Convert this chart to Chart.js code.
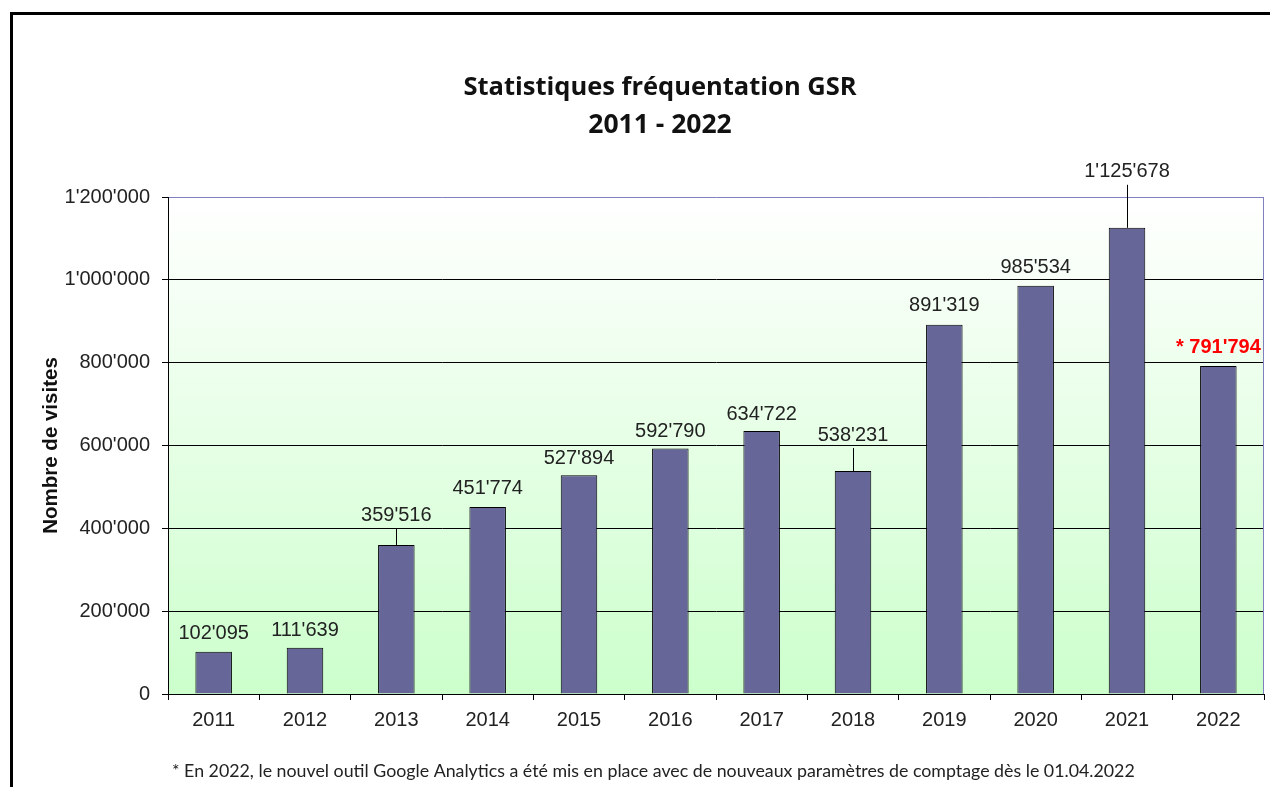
<!DOCTYPE html>
<html>
<head>
<meta charset="utf-8">
<script src="https://cdn.jsdelivr.net/npm/chart.js@4.4.1/dist/chart.umd.min.js"></script>
<style>
html,body{margin:0;padding:0;background:#fff;overflow:hidden}
#wrap{width:1270px;height:787px;position:relative}
canvas{display:block}
</style>
</head>
<body>
<div id="wrap"><canvas id="c" width="1270" height="787"></canvas></div>
<script>
// ---- data ----
const years = ['2011','2012','2013','2014','2015','2016','2017','2018','2019','2020','2021','2022'];
const visits = [102095, 111639, 359516, 451774, 527894, 592790, 634722, 538231, 891319, 985534, 1125678, 791794];
const labelPrefix = ['', '', '', '', '', '', '', '', '', '', '', '* '];
const yTickValues = [0, 200000, 400000, 600000, 800000, 1000000, 1200000];
const titleLines = ['Statistiques fréquentation GSR', '2011 - 2022'];
const yAxisTitle = 'Nombre de visites';
const footnote = '* En 2022, le nouvel outil Google Analytics a été mis en place avec de nouveaux paramètres de comptage dès le 01.04.2022';

const fmt = v => String(v).replace(/\B(?=(\d{3})+(?!\d))/g, "'");
const ARIAL = "'Liberation Sans', Arial, sans-serif";
const TITLEFONT = "'Open Sans', Lato, sans-serif";
const NOTEFONT = "Lato, 'Open Sans', sans-serif";

const bgPlugin = {
  id: 'bgPlugin',
  beforeDraw(chart) {
    const {ctx, chartArea: a} = chart;
    ctx.save();
    ctx.fillStyle = '#fff';
    ctx.fillRect(0, 0, chart.width, chart.height);
    const g = ctx.createLinearGradient(0, a.top, 0, a.bottom);
    g.addColorStop(0, '#ffffff');
    g.addColorStop(1, '#ccffcc');
    ctx.fillStyle = g;
    ctx.fillRect(a.left, a.top, a.right - a.left, a.bottom - a.top);
    ctx.restore();
  },
  beforeDatasetsDraw(chart) {
    const {ctx, chartArea: a} = chart;
    ctx.save();
    ctx.strokeStyle = '#8080c0';
    ctx.lineWidth = 1;
    ctx.beginPath();
    ctx.moveTo(Math.round(a.right) - 0.5, a.top);
    ctx.lineTo(Math.round(a.right) - 0.5, a.bottom);
    ctx.stroke();
    ctx.restore();
  },
  afterDraw(chart) {
    const {ctx} = chart;
    ctx.save();
    // outer frame
    ctx.strokeStyle = '#000';
    ctx.lineWidth = 3;
    ctx.beginPath();
    ctx.moveTo(11.5, chart.height + 5);
    ctx.lineTo(11.5, 13.5);
    ctx.lineTo(chart.width + 5, 13.5);
    ctx.stroke();
    // footnote
    ctx.fillStyle = '#222';
    ctx.font = '17.8px ' + NOTEFONT;
    ctx.textAlign = 'left';
    ctx.textBaseline = 'middle';
    ctx.fillText(footnote, 172, 771);
    ctx.restore();
  }
};

const barLabels = {
  id: 'barLabels',
  afterDatasetsDraw(chart, args, opts) {
    const {ctx} = chart;
    const meta = chart.getDatasetMeta(0);
    ctx.save();
    ctx.textAlign = 'center';
    ctx.textBaseline = 'middle';
    meta.data.forEach((bar, i) => {
      const lift = opts.lift[i];
      const ly = bar.y - lift;
      if (lift >= opts.leaderMin) {
        ctx.strokeStyle = '#000';
        ctx.lineWidth = 1;
        ctx.beginPath();
        ctx.moveTo(Math.round(bar.x) + 0.5, ly + 13);
        ctx.lineTo(Math.round(bar.x) + 0.5, bar.y);
        ctx.stroke();
      }
      const special = labelPrefix[i] !== '';
      ctx.font = (special ? 'bold ' : '') + '20px ' + ARIAL;
      ctx.fillStyle = special ? '#ff0000' : '#222';
      ctx.fillText(labelPrefix[i] + fmt(visits[i]), bar.x, ly);
    });
    ctx.restore();
  }
};

new Chart(document.getElementById('c'), {
  type: 'bar',
  data: {
    labels: years,
    datasets: [{
      data: visits,
      backgroundColor: '#666699',
      borderColor: '#000',
      borderWidth: 1,
      barPercentage: 0.4,
      categoryPercentage: 1.0
    }]
  },
  options: {
    responsive: false,
    animation: false,
    devicePixelRatio: 1,
    layout: {padding: {left: 56, right: 6, top: 0, bottom: 55}},
    plugins: {
      legend: {display: false},
      tooltip: {enabled: false},
      title: {
        display: true,
        text: titleLines[0],
        color: '#111',
        font: {family: TITLEFONT, size: 25.5, weight: 'bold', lineHeight: 1.2},
        padding: {top: 72.7, bottom: 5.8}
      },
      subtitle: {
        display: true,
        text: titleLines[1],
        color: '#111',
        font: {family: TITLEFONT, size: 26.5, weight: 'bold', lineHeight: 1.2},
        padding: {top: 0, bottom: 56.1}
      },
      barLabels: {lift: [18, 17, 30, 18, 17, 17, 17, 36, 19, 18, 56, 19], leaderMin: 25}
    },
    scales: {
      x: {
        offset: true,
        grid: {offset: true, drawOnChartArea: false, drawTicks: true, tickLength: 6, color: '#000', tickColor: '#000'},
        border: {display: true, color: '#000', width: 1},
        ticks: {color: '#222', font: {family: ARIAL, size: 20}, padding: 8, maxRotation: 0},
        afterFit(s) { s.height = 38; }
      },
      y: {
        min: 0,
        max: 1200000,
        afterBuildTicks(s) { s.ticks = yTickValues.map(v => ({value: v})); },
        grid: {
          color: c => (c.tick && c.tick.value === 1200000) ? '#8080c0' : '#000',
          tickColor: '#000',
          tickLength: 6,
          lineWidth: 1
        },
        border: {display: true, color: '#000', width: 1},
        ticks: {color: '#222', font: {family: ARIAL, size: 20}, padding: 12, callback: v => fmt(v)},
        title: {
          display: true,
          text: yAxisTitle,
          color: '#111',
          font: {family: ARIAL, size: 20.5, weight: 'bold', lineHeight: 1.2},
          padding: {top: -17, bottom: 0}
        },
        afterFit(s) { s.width = 112; }
      }
    }
  },
  plugins: [bgPlugin, barLabels]
});
</script>
</body>
</html>
